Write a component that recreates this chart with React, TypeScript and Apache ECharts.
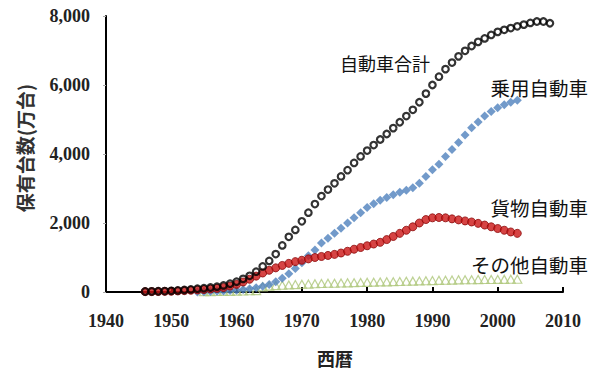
import React, { useEffect, useRef } from "react";
import * as echarts from "echarts";

// x-axis ticks
const xTicks = [1940, 1950, 1960, 1970, 1980, 1990, 2000, 2010];
const yTicks = [0, 2000, 4000, 6000, 8000];

// 自動車合計 (1946-2008)
const totalStart = 1946;
const totalValues = [
  15, 18, 22, 28, 35, 45, 58, 75, 95, 110,
  130, 155, 190, 240, 300, 380, 470, 590, 740, 900,
  1100, 1350, 1600, 1800, 2050, 2300, 2550, 2780, 2970, 3150,
  3350, 3530, 3740, 3930, 4100, 4260, 4420, 4580, 4750, 4920,
  5100, 5280, 5500, 5750, 6000, 6240, 6460, 6650, 6830, 6990,
  7130, 7250, 7350, 7450, 7540, 7600, 7650, 7700, 7750, 7800,
  7840, 7840, 7790,
];

// 乗用自動車 (1954-2003)
const carStart = 1954;
const carValues = [
  3, 10, 15, 22, 30, 40, 50, 70, 95, 125,
  170, 220, 300, 400, 530, 680, 850, 1050, 1220, 1420,
  1560, 1700, 1850, 2000, 2150, 2300, 2450, 2560, 2660, 2740,
  2820, 2890, 2950, 3020, 3150, 3350, 3540, 3700, 3930, 4130,
  4330, 4550, 4760, 4930, 5100, 5230, 5340, 5430, 5500, 5560,
];

// 貨物自動車 (1946-2003)
const truckStart = 1946;
const truckValues = [
  10, 12, 15, 18, 22, 30, 40, 50, 60, 70,
  85, 105, 130, 170, 220, 290, 370, 460, 550, 630,
  700, 770, 830, 880, 920, 960, 1000, 1030, 1060, 1090,
  1130, 1180, 1240, 1290, 1340, 1390, 1440, 1520, 1610, 1700,
  1790, 1890, 2000, 2100, 2150, 2160, 2150, 2120, 2090, 2060,
  2030, 1990, 1940, 1890, 1840, 1790, 1740, 1700,
];

// その他自動車 (1955-2003)
const otherStart = 1955;
const otherValues = [
  10, 12, 15, 18, 20, 25, 30, 35, 40, 150,
  170, 185, 195, 205, 215, 225, 230, 240, 245, 252,
  255, 262, 265, 270, 278, 280, 285, 292, 295, 300,
  305, 312, 315, 322, 325, 330, 338, 340, 345, 352,
  355, 356, 360, 362, 362, 365, 366, 368, 370,
];

const toPairs = (start: number, vals: number[]) => vals.map((v, i) => [start + i, v]);

const labelFont = "'Noto Sans CJK JP', 'Noto Sans', sans-serif";
const tickFont = "'Liberation Serif', 'DejaVu Serif', serif";

export default function App() {
  const ref = useRef<HTMLDivElement>(null);
  useEffect(() => {
    if (!ref.current) return;
    const chart = echarts.init(ref.current, undefined, { renderer: "svg" });
    chart.setOption({
      animation: false,
      backgroundColor: "#ffffff",
      grid: { left: 106, right: 38, top: 16, bottom: 89 },
      xAxis: {
        type: "value",
        min: xTicks[0],
        max: xTicks[xTicks.length - 1],
        interval: 10,
        splitLine: { show: false },
        axisLine: { show: true, onZero: false, lineStyle: { color: "#000", width: 2 } },
        axisTick: { show: true, inside: true, length: 5, lineStyle: { color: "#000", width: 2 } },
        axisLabel: {
          margin: 20,
          color: "#222",
          fontFamily: tickFont,
          fontWeight: "bold",
          fontSize: 18,
          formatter: (v: number) => String(v),
        },
      },
      yAxis: {
        type: "value",
        min: yTicks[0],
        max: yTicks[yTicks.length - 1],
        interval: 2000,
        splitLine: { show: false },
        axisLine: { show: true, lineStyle: { color: "#000", width: 2 } },
        axisTick: { show: true, length: 3, lineStyle: { color: "#aaa", width: 1 } },
        axisLabel: {
          margin: 16,
          color: "#222",
          fontFamily: tickFont,
          fontWeight: "bold",
          fontSize: 18,
          formatter: (v: number) => v.toLocaleString("en-US"),
        },
      },
      series: [
        {
          name: "その他自動車",
          type: "scatter",
          symbol: "triangle",
          symbolSize: [9, 8],
          data: toPairs(otherStart, otherValues),
          itemStyle: { color: "rgba(0,0,0,0)", borderColor: "#aec77a", borderWidth: 1.2 },
          z: 2,
        },
        {
          name: "乗用自動車",
          type: "scatter",
          symbol: "diamond",
          symbolSize: 9,
          data: toPairs(carStart, carValues),
          itemStyle: { color: "#4f81bd" },
          z: 3,
        },
        {
          name: "貨物自動車",
          type: "scatter",
          symbol: "circle",
          symbolSize: 8,
          data: toPairs(truckStart, truckValues),
          itemStyle: { color: "#cc1515", borderColor: "#8b0a0a", borderWidth: 1 },
          z: 4,
        },
        {
          name: "自動車合計",
          type: "scatter",
          symbol: "circle",
          symbolSize: 6.5,
          data: toPairs(totalStart, totalValues),
          itemStyle: { color: "rgba(0,0,0,0)", borderColor: "#000", borderWidth: 2.2 },
          z: 5,
        },
      ],
      graphic: [
        {
          type: "text",
          x: 24,
          y: 148,
          rotation: Math.PI / 2,
          style: {
            text: "保有台数(万台)",
            fontFamily: labelFont,
            fontSize: 19,
            fontWeight: "bold",
            fill: "#333",
            align: "center",
            verticalAlign: "middle",
          },
        },
        {
          type: "text",
          x: 335,
          y: 358,
          style: {
            text: "西暦",
            fontFamily: labelFont,
            fontSize: 18,
            fontWeight: "bold",
            fill: "#222",
            align: "center",
            verticalAlign: "middle",
          },
        },
        {
          type: "text",
          x: 430,
          y: 63,
          style: { text: "自動車合計", fontFamily: labelFont, fontSize: 18, fill: "#111", align: "right", verticalAlign: "middle" },
        },
        {
          type: "text",
          x: 588,
          y: 87,
          style: { text: "乗用自動車", fontFamily: labelFont, fontSize: 19.5, fill: "#111", align: "right", verticalAlign: "middle" },
        },
        {
          type: "text",
          x: 588,
          y: 207,
          style: { text: "貨物自動車", fontFamily: labelFont, fontSize: 19.5, fill: "#111", align: "right", verticalAlign: "middle" },
        },
        {
          type: "text",
          x: 588,
          y: 264,
          style: { text: "その他自動車", fontFamily: labelFont, fontSize: 19.5, fill: "#111", align: "right", verticalAlign: "middle" },
        },
      ],
    });
    return () => chart.dispose();
  }, []);
  return (
    <div
      ref={ref}
      style={{ position: "fixed", left: 0, top: 0, width: 601, height: 381, background: "#fff" }}
    />
  );
}
